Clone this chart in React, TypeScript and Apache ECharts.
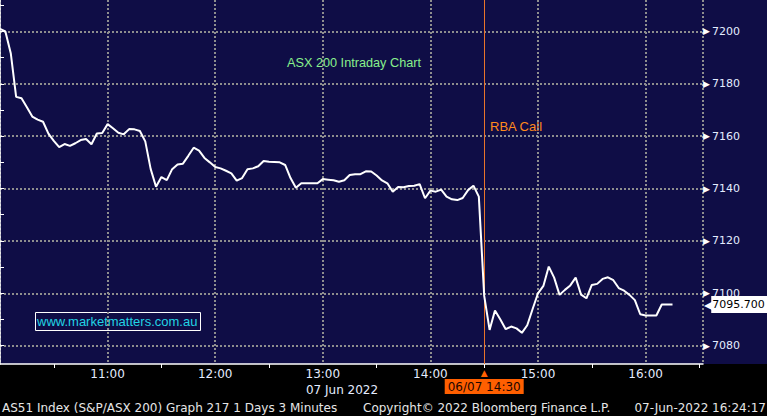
import React, { useEffect, useRef } from 'react';
import * as echarts from 'echarts';

// ---- data ----
const startHour = 10;
const barMinutes = 3;
const prices = [
  7201, 7200, 7191.7, 7175, 7174.5, 7171, 7167.5, 7166.3, 7165.5, 7161,
  7158.2, 7155.8, 7157, 7156.3, 7157.3, 7158.5, 7158.9, 7156.9, 7161, 7161.2,
  7164.6, 7163, 7161.3, 7160.7, 7162.7, 7162.6, 7162, 7158, 7147.5, 7140.7,
  7144.4, 7143.2, 7147.4, 7149.2, 7149.5, 7152.5, 7155.6, 7154.5, 7151.7, 7150,
  7148.2, 7147.7, 7146.8, 7145.8, 7143, 7144, 7147.4, 7147.7, 7148.5, 7150.5,
  7150.2, 7150.1, 7150, 7149, 7144, 7140.3, 7142, 7142, 7142, 7142,
  7143.6, 7143.4, 7143.2, 7142.6, 7143.2, 7145.2, 7145.5, 7145.5, 7146.6, 7146.5,
  7145, 7143.1, 7142, 7138.8, 7140.6, 7140.5, 7141, 7141.1, 7141.7, 7136.3,
  7139.2, 7138.8, 7139.6, 7136.9, 7135.9, 7135.6, 7136.4, 7139.4, 7141.1, 7136.9,
  7099, 7086, 7093.4, 7090, 7086.3, 7087.3, 7086.6, 7084.9, 7087.8, 7094,
  7100, 7102.8, 7110.2, 7106, 7099.4, 7101.3, 7103, 7106, 7099.5, 7098.1,
  7103.2, 7103.6, 7105.5, 7106.1, 7105, 7102, 7101, 7099.4, 7097.4, 7092,
  7091.5, 7091.5, 7091.5, 7095.7, 7095.7, 7095.7,
];
const yLabelValues = [7080, 7100, 7120, 7140, 7160, 7180, 7200];
const yTickValues = [7080, 7090, 7100, 7110, 7120, 7130, 7140, 7150, 7160, 7170, 7180, 7190, 7200, 7210];
const xLabelMinutes = [60, 120, 180, 240, 300, 360];
const yMin = 7073;
const yMax = 7212;
const xMaxMinutes = 392;
const rbaMinute = 270; // 14:30
const rbaStamp = '06/07 14:30';
const titleText = 'ASX 200 Intraday Chart';
const rbaText = 'RBA Call';
const siteText = 'www.marketmatters.com.au';
const dateText = '07 Jun 2022';
const footerLeft = 'AS51 Index (S&P/ASX 200) Graph 217 1 Days 3 Minutes';
const footerMid = 'Copyright\u00A9 2022 Bloomberg Finance L.P.';
const footerRight = '07-Jun-2022 16:24:17';

const NAVY = '#0f0d46';
const GRID = '#8e8e8e';
const LABEL = '#e4ecff';
const DV = '"DejaVu Sans"';
const LS = '"Liberation Sans"';

export default function App() {
  const ref = useRef<HTMLDivElement>(null);
  useEffect(() => {
    if (!ref.current) return;
    const chart = echarts.init(ref.current, undefined, { renderer: 'svg' });
    const data = prices.map((p, i) => [i * barMinutes, p]);
    const last = prices[prices.length - 1];
    chart.setOption({
      animation: false,
      backgroundColor: '#000',
      textStyle: { fontFamily: DV },
      grid: { left: 0, top: 0, width: 703, height: 364, containLabel: false },
      xAxis: {
        type: 'value',
        min: 0,
        max: xMaxMinutes,
        interval: 60,
        axisLine: { show: true, lineStyle: { color: '#fff', width: 1.5 } },
        axisTick: { show: false },
        minorTick: { show: true, splitNumber: 2, length: 4, lineStyle: { color: '#fff', width: 1 } },
        minorSplitLine: { show: false },
        splitLine: { show: true, lineStyle: { color: GRID, width: 2, type: [2, 2] } },
        axisLabel: {
          color: LABEL,
          fontSize: 12,
          fontFamily: DV,
          margin: 4,
          showMaxLabel: false,
          showMinLabel: false,
          formatter: (v: number) =>
            xLabelMinutes.indexOf(v) >= 0 ? `${startHour + v / 60}:00` : '',
        },
      },
      yAxis: {
        type: 'value',
        position: 'right',
        min: yMin,
        max: yMax,
        axisLine: { show: true, lineStyle: { color: '#fff', width: 1.5 } },
        axisTick: { show: true, length: 4, customValues: yTickValues, lineStyle: { color: '#fff' } },
        splitLine: { show: true, lineStyle: { color: [GRID, 'transparent'], width: 2, type: [2, 2] } },
        axisLabel: {
          customValues: yLabelValues,
          margin: 0,
          formatter: (v: number) => `{a|\u25B6}{b|${v}}`,
          rich: {
            a: { color: '#fff', fontSize: 9, fontFamily: DV },
            b: { color: LABEL, fontSize: 11, fontFamily: DV, padding: [0, 0, 0, 2] },
          },
        },
      },
      series: [
        {
          type: 'line',
          data,
          symbol: 'none',
          smooth: false,
          lineStyle: { color: '#fff', width: 2 },
          z: 5,
          markLine: {
            symbol: 'none',
            silent: true,
            data: [
              {
                xAxis: rbaMinute,
                lineStyle: { color: '#e8742a', width: 1, type: 'solid' },
                label: {
                  show: true,
                  position: 'start',
                  distance: 3,
                  formatter: `{t|\u25B2}\n{b|${rbaStamp}}`,
                  rich: {
                    t: { color: '#ff6000', fontSize: 9, lineHeight: 12, align: 'center' },
                    b: {
                      color: '#1c0600',
                      backgroundColor: '#ff5f00',
                      fontSize: 12,
                      fontFamily: DV,
                      padding: [2, 3, 1, 3],
                      align: 'center',
                    },
                  },
                },
              },
              {
                yAxis: last,
                lineStyle: { color: 'transparent', width: 0 },
                label: {
                  show: true,
                  position: 'end',
                  distance: 1,
                  formatter: `{a|\u25C0}{b|${last.toFixed(3)}}`,
                  rich: {
                    a: { color: '#fff', fontSize: 12, fontFamily: DV, padding: [0, -2, 0, 0] },
                    b: {
                      color: '#000',
                      backgroundColor: '#fff',
                      fontSize: 11,
                      fontFamily: DV,
                      padding: [3, 3, 3, 1],
                    },
                  },
                },
              },
            ],
          },
        },
      ],
      graphic: [
        {
          type: 'rect',
          z: -100,
          shape: { x: 0, y: 0, width: 767, height: 364 },
          style: { fill: NAVY },
        },
        {
          type: 'text',
          x: 287,
          y: 63,
          style: { text: titleText, fill: '#88f08c', font: `12.7px ${LS}`, textVerticalAlign: 'middle' },
        },
        {
          type: 'text',
          x: 490,
          y: 126,
          style: { text: rbaText, fill: '#ff8a1c', font: `13px ${LS}`, textVerticalAlign: 'middle' },
        },
        {
          type: 'rect',
          shape: { x: 35.5, y: 312.5, width: 165, height: 18 },
          style: { fill: 'none', stroke: '#fff', lineWidth: 1 },
        },
        {
          type: 'text',
          x: 37,
          y: 321.5,
          style: { text: siteText, fill: '#22d4e4', font: `13px ${LS}`, textVerticalAlign: 'middle' },
        },
        {
          type: 'text',
          x: 342,
          y: 389.5,
          style: { text: dateText, fill: LABEL, font: `12px ${DV}`, textAlign: 'center', textVerticalAlign: 'middle' },
        },
        {
          type: 'text',
          x: 2,
          y: 408,
          style: { text: footerLeft, fill: '#e6e6e6', font: `12px ${DV}`, textVerticalAlign: 'middle' },
        },
        {
          type: 'text',
          x: 363,
          y: 408,
          style: { text: footerMid, fill: '#e6e6e6', font: `12px ${DV}`, textVerticalAlign: 'middle' },
        },
        {
          type: 'text',
          x: 766,
          y: 408,
          style: { text: footerRight, fill: '#e6e6e6', font: `12px ${DV}`, textAlign: 'right', textVerticalAlign: 'middle' },
        },
      ],
    });
    return () => chart.dispose();
  }, []);
  return <div ref={ref} style={{ position: 'fixed', left: 0, top: 0, width: 767, height: 416 }} />;
}
